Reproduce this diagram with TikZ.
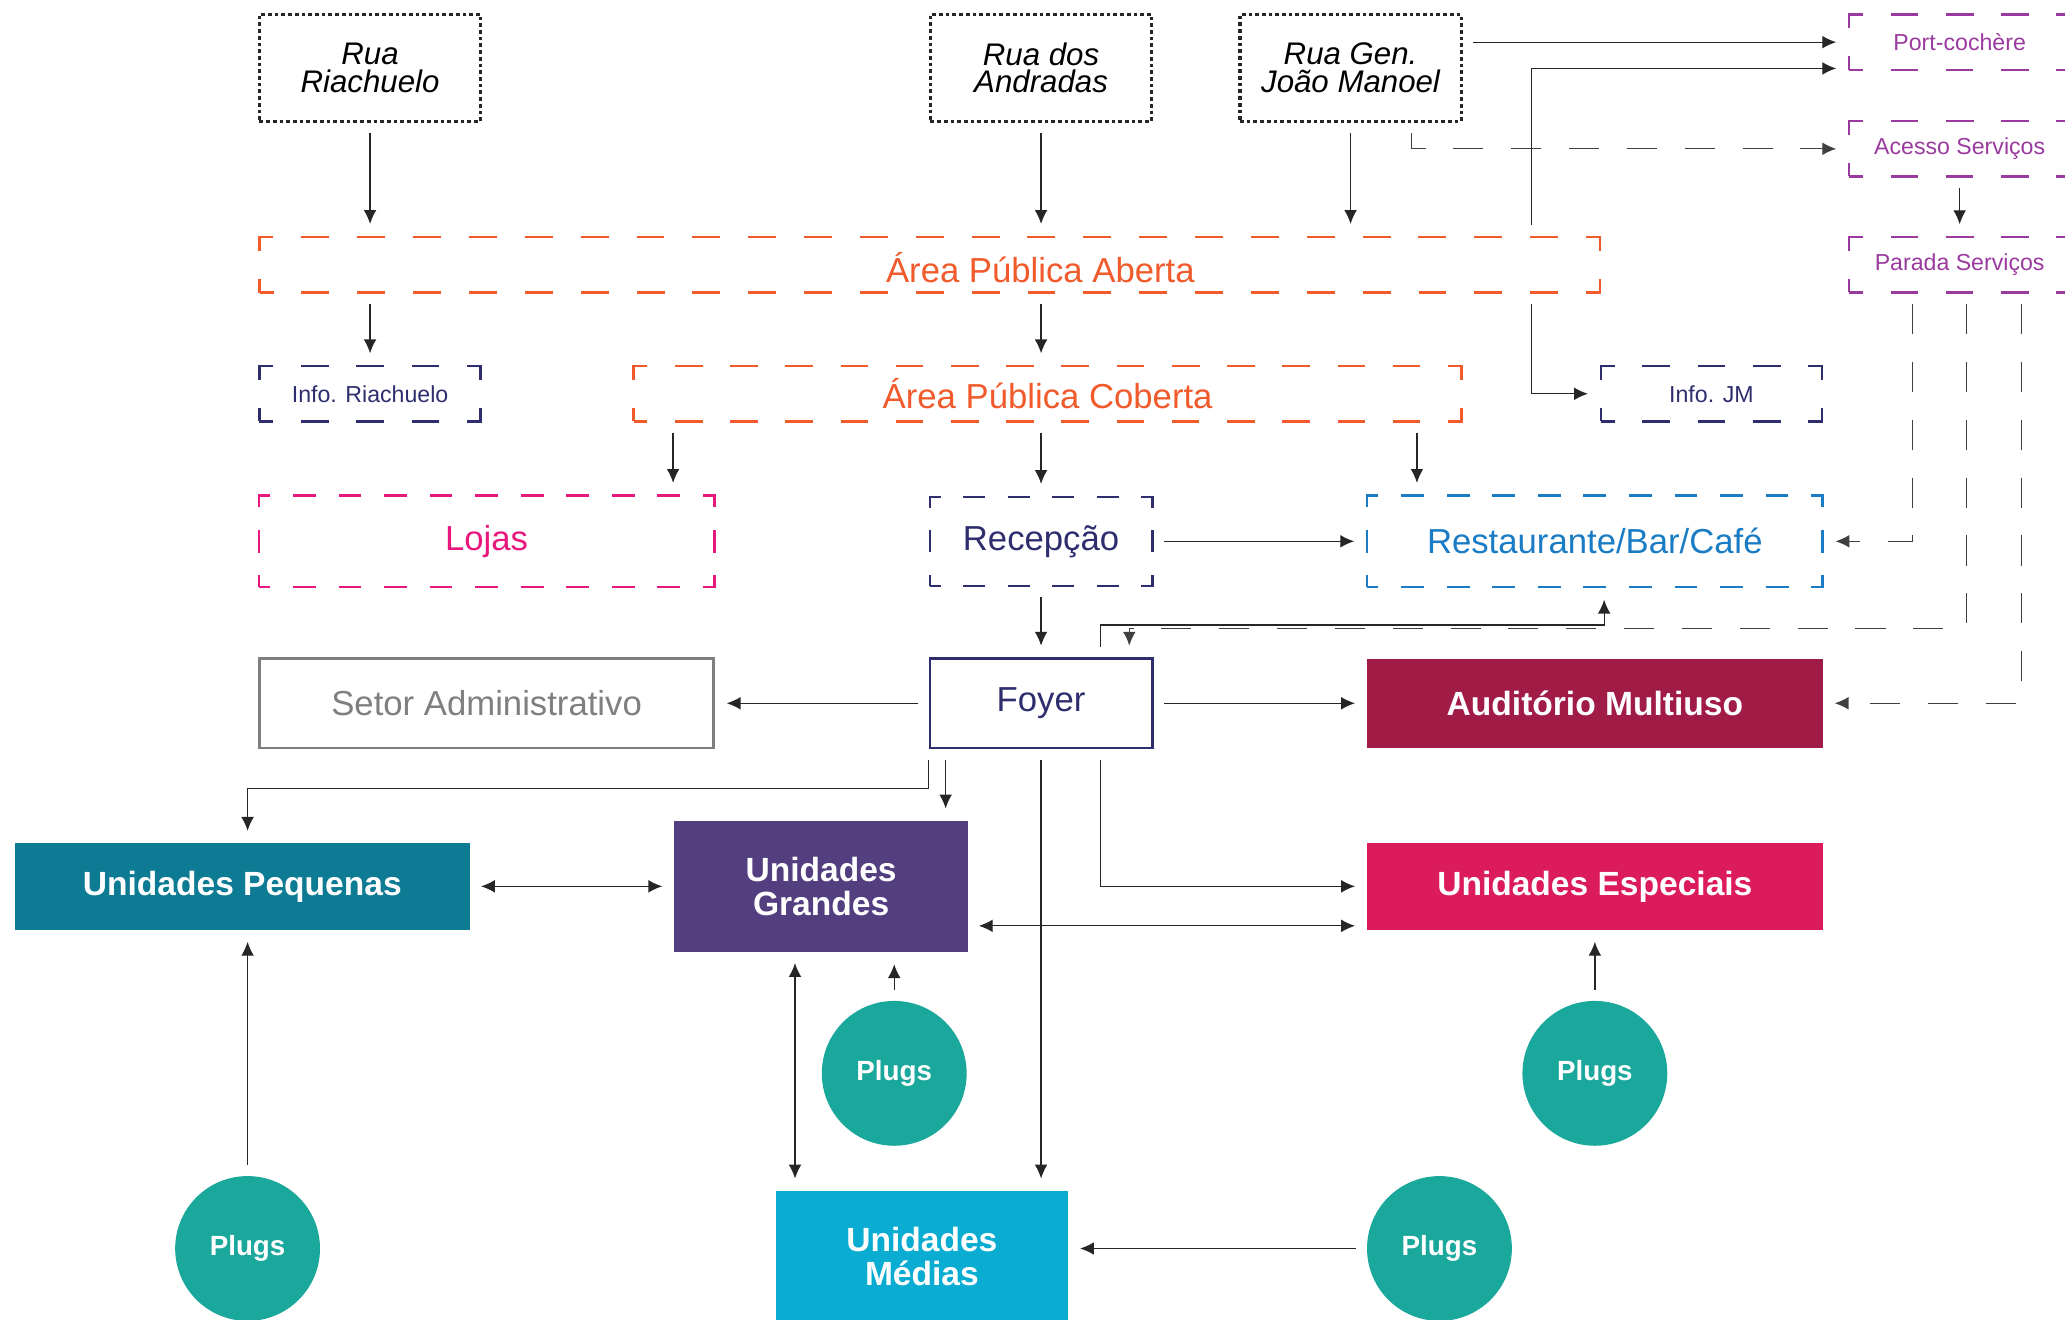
\documentclass[tikz,border=0pt]{standalone}
\usepackage{fontspec}
\setmainfont{Liberation Sans}
\usepackage{tikz}
\usetikzlibrary{calc,arrows.meta,positioning}
\usepackage{xcolor}
\definecolor{areaorange}{HTML}{F15A2B}
\definecolor{infonavy}{HTML}{2E2D6E}
\definecolor{lojaspink}{HTML}{E8177D}
\definecolor{restblue}{HTML}{1A7CC5}
\definecolor{servpurple}{HTML}{9A3A9E}
\definecolor{setorgray}{HTML}{7F7F7F}
\definecolor{auditred}{HTML}{A01C46}
\definecolor{pequteal}{HTML}{0E7B94}
\definecolor{grandpurple}{HTML}{533F80}
\definecolor{especpink}{HTML}{DC1B5D}
\definecolor{mediacyan}{HTML}{0AADD1}
\definecolor{plugsgreen}{HTML}{1AA89C}
\tikzstyle{plan}=[
  >={Latex[length=6pt,width=5.5pt]},x=0.02cm,y=-0.02cm
]
\tikzstyle{street}=[
  draw=black!85,line width=1.4pt,dash pattern=on 1.6pt off 1.3pt,inner sep=0pt,
  minimum width=3.36cm,minimum height=1.62cm,align=center,
  font=\itshape\fontsize{13.5}{12}\selectfont
]
% dash length, dash phase (sides are whole periods, so corners come out as L)
\tikzset{zone/.style 2 args={
  draw,line width=1.1pt,dash pattern=on #1 off #1,dash phase=#2,inner sep=0pt,
  font=\fontsize{15}{18}\selectfont
}}
\tikzstyle{smallzone}=[
  zone={11.95pt}{5.975pt},minimum width=3.36cm,minimum height=0.84cm,
  font=\fontsize{10}{12}\selectfont
]
\tikzstyle{unit}=[
  inner sep=0pt,text=white,align=center,font=\bfseries\fontsize{14.5}{14.5}\selectfont
]
\tikzstyle{plugs}=[
  circle,fill=plugsgreen,minimum size=2.2cm,inner sep=0pt,text=white,
  font=\bfseries\fontsize{12}{14}\selectfont
]
\tikzstyle{link}=[
  line width=0.55pt,draw=black!85,shorten <=4.5pt,shorten >=5pt
]
\tikzstyle{dlink}=[
  link,draw=black!75,dash pattern=on 13pt off 12pt
]

\begin{document}
\begin{tikzpicture}[plan]
  \useasboundingbox (0,0) rectangle (1568,1002);
  \clip (0,0) rectangle (1568,1002);
  % streets
  \node (rriach) at (281,51.5) [street] {Rua\\Riachuelo};
  \node (randr) at (790.5,51.5) [street] {Rua dos\\Andradas};
  \node (rjm) at (1025.5,51.5) [street] {Rua Gen.\\João Manoel};
  % service access
  \node (port) at (1488,32) [smallzone,draw=servpurple,text=servpurple] {Port-cochère};
  \node (acesso) at (1488,113) [smallzone,draw=servpurple,text=servpurple] {Acesso Serviços};
  \node (parada) at (1488,201) [smallzone,draw=servpurple,text=servpurple] {Parada Serviços};
  % public areas
  \node (aberta) at (706,201) [zone={12.069pt}{6.034pt},draw=areaorange,minimum width=20.36cm,minimum height=0.8483cm] {};
  \node (abertatxt) at (790,203) [font=\fontsize{15}{18}\selectfont,text=areaorange] {Área Pública Aberta};
  \node (coberta) at (795.5,299) [zone={11.931pt}{5.966pt},draw=areaorange,text=areaorange,minimum width=12.58cm,minimum height=0.8387cm] {Área Pública Coberta};
  \node (rinfo) at (281,299) [smallzone,draw=infonavy,text=infonavy] {Info. Riachuelo};
  \node (infojm) at (1299.5,299) [smallzone,draw=infonavy,text=infonavy] {Info. JM};
  \node (lojas) at (369.5,411) [zone={9.845pt}{4.922pt},draw=lojaspink,text=lojaspink,minimum width=6.92cm,minimum height=1.384cm] {Lojas};
  \node (recep) at (790.5,411) [zone={9.617pt}{4.809pt},draw=infonavy,text=infonavy,minimum width=3.38cm,minimum height=1.352cm] {Recepção};
  \node (rest) at (1211,411) [zone={9.845pt}{4.922pt},draw=restblue,text=restblue,minimum width=6.92cm,minimum height=1.384cm] {Restaurante/Bar/Café};
  \node (setor) at (369.5,534) [draw=setorgray,line width=1.2pt,text=setorgray,minimum width=6.9cm,minimum height=1.36cm,font=\fontsize{15}{18}\selectfont] {Setor Administrativo};
  \node (foyer) at (790.5,534) [draw=infonavy,line width=1.1pt,text=infonavy,minimum width=3.38cm,minimum height=1.36cm,font=\fontsize{15}{18}\selectfont] {Foyer};
  % units
  \node (audit) at (1211,534) [unit,fill=auditred,minimum width=6.92cm,minimum height=1.36cm] {Auditório Multiuso};
  \node (pequenas) at (184,673) [unit,fill=pequteal,minimum width=6.92cm,minimum height=1.32cm] {Unidades Pequenas};
  \node (grandes) at (623.5,673) [unit,fill=grandpurple,minimum width=4.46cm,minimum height=2cm] {Unidades\\Grandes};
  \node (espec) at (1211,673) [unit,fill=especpink,minimum width=6.92cm,minimum height=1.32cm] {Unidades Especiais};
  \node (medias) at (700,954) [unit,fill=mediacyan,minimum width=4.44cm,minimum height=2cm] {Unidades\\Médias};
  \node (plugsa) at (188,948) [plugs] {Plugs};
  \node (plugsb) at (679,815) [plugs] {Plugs};
  \node (plugsc) at (1211,815) [plugs] {Plugs};
  \node (plugsd) at (1093,948) [plugs] {Plugs};

  % streets to areas
  \draw [link,->] (rriach) -- (rriach |- aberta.north);
  \draw [link,->] (randr) -- (randr |- aberta.north);
  \draw [link,->] (rjm) -- (rjm |- aberta.north);
  \draw [link,->] (rjm.east |- port) -- (port);
  \draw [link,->] ($(aberta.north east)+(-53,0)$) |- ($(port.south west)+(0,-2)$);
  \draw [dlink,->] ($(rjm.south)+(46,0)$) |- (acesso);
  \draw [link,->] (acesso) -- (parada);
  % areas
  \coordinate (cl) at ($(coberta.south west)+(31,0)$);
  \coordinate (cr) at ($(coberta.south east)+(-35,0)$);
  \draw [link,->] (aberta.south -| rinfo) -- (rinfo);
  \draw [link,->] (aberta.south -| recep) -- (coberta.north -| recep);
  \draw [link,->] ($(aberta.south east)+(-53,0)$) |- (infojm);
  \draw [link,->] (cl) -- (cl |- lojas.north);
  \draw [link,->] (coberta.south -| recep) -- (recep);
  \draw [link,->] (cr) -- (cr |- rest.north);
  \draw [link,->] (recep) -- (rest);
  \draw [link,->] (recep) -- (foyer);
  % service paths
  \draw [dlink,->] ($(parada.south)+(-36,0)$) |- (rest);
  \draw [dlink,->] ($(parada.south)+(5,0)$) |- ($(foyer.north)+(67,-22)$) -- ($(foyer.north)+(67,0)$);
  \draw [dlink,->] ($(parada.south)+(47,0)$) |- (audit);
  % foyer
  \coordinate (fg) at ($(foyer.south west)+(13,0)$);
  \draw [link,->] ($(foyer.north)+(45,0)$) |- ($(rest.south west)+(181,28)$) -- ($(rest.south west)+(181,0)$);
  \draw [link,->] (foyer) -- (setor);
  \draw [link,->] (foyer) -- (audit);
  \draw [link,->] (foyer.south west) -- ++(0,30) -| ($(pequenas.north)+(4,0)$);
  \draw [link,->] (fg) -- (fg |- grandes.north);
  \draw [link,->] (foyer) -- (foyer |- medias.north);
  \draw [link,->] ($(foyer.south)+(45,0)$) |- (espec);
  % units
  \coordinate (ge) at ($(grandes.east)+(0,30)$);
  \coordinate (gm) at ($(grandes.south west)+(92,0)$);
  \draw [link,<->] (pequenas) -- (grandes);
  \draw [link,<->] (ge) -- (ge -| espec.west);
  \draw [link,<->] (gm) -- (gm |- medias.north);
  \draw [link,->] (plugsa) -- (plugsa |- pequenas.south);
  \draw [link,->] (plugsb) -- (plugsb |- grandes.south);
  \draw [link,->] (plugsc) -- (espec);
  \draw [link,->] (plugsd) -- (plugsd -| medias.east);
\end{tikzpicture}
\end{document}
